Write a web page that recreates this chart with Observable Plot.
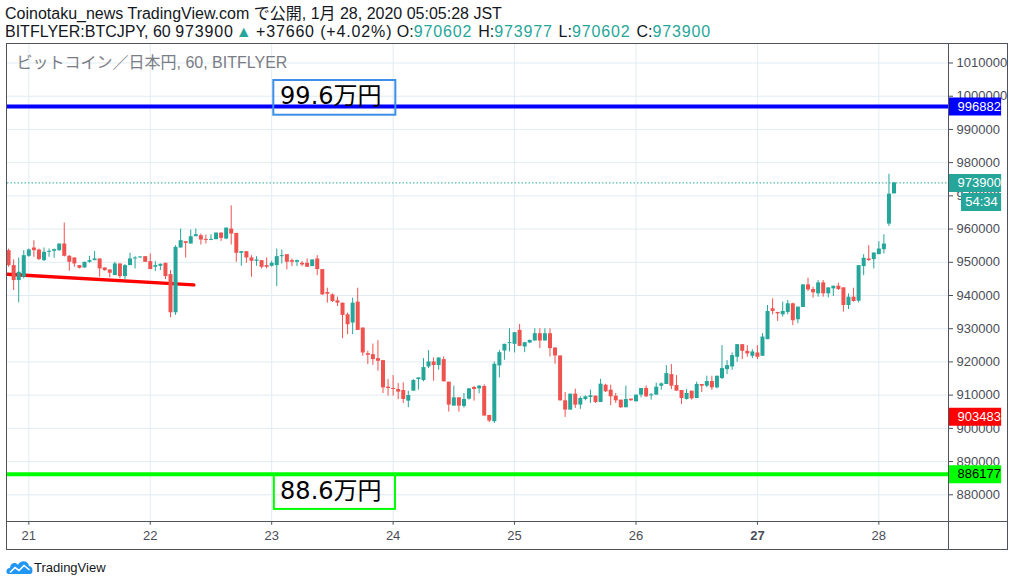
<!DOCTYPE html>
<html lang="ja">
<head>
<meta charset="utf-8">
<script src="https://cdn.jsdelivr.net/npm/d3@7"></script>
<script src="https://cdn.jsdelivr.net/npm/@observablehq/plot@0.6"></script>
<style>
html,body{margin:0;padding:0;background:#fff;}
body{width:1014px;height:586px;position:relative;overflow:hidden;font-family:"Liberation Sans",Arial,"Noto Sans CJK JP",sans-serif;color:#131722;}
.hdr{position:absolute;left:5px;font-size:16px;line-height:20px;white-space:nowrap;}
#h1{top:4px;}
#h2{top:22px;}
.v{color:#26a69a;}
.n{letter-spacing:0.85px;}
.tri{margin-left:2px;color:#26a69a;}
.it{margin-left:1.5px;}
#chart{position:absolute;left:0;top:42px;}
.ln{position:absolute;background:#50535e;}
#logo{position:absolute;left:6px;top:557px;height:20px;display:flex;align-items:center;font-size:13px;color:#131722;}
#logo svg{margin-right:1px;}
</style>
</head>
<body>
<div id="h1" class="hdr"></div>
<div id="h2" class="hdr"></div>
<div id="chart"></div>
<div class="ln" style="left:6px;top:43px;width:1002px;height:1px"></div>
<div class="ln" style="left:6px;top:43px;width:1px;height:507px"></div>
<div class="ln" style="left:1007px;top:43px;width:1px;height:507px"></div>
<div class="ln" style="left:6px;top:549px;width:1002px;height:1px"></div>
<div class="ln" style="left:948px;top:43px;width:1px;height:507px"></div>
<div class="ln" style="left:6px;top:521px;width:1002px;height:1px"></div>
<div id="logo"><svg width="27" height="16" viewBox="0 0 27 16"><path d="M2.5 15 C-0.5 15 -0.5 9 4 9 C4 4 9.5 2.5 12 6 C14 1 22 1 23 7 C27.5 7 27.5 15 24 15 Z" fill="#2196f3"/><polyline points="4,13.5 9,8.5 13,11.5 18,6.5 23.5,11" fill="none" stroke="#fff" stroke-width="1.6"/></svg><span>TradingView</span></div>
<script>
// ---------- header texts ----------
const headerLine1 = "Coinotaku_news TradingView.com で公開, 1月 28, 2020 05:05:28 JST";
const symbolText = "BITFLYER:BTCJPY, 60";
const changeText = "+37660 (+4.02%)";
const innerTitle = "ビットコイン／日本円, 60, BITFLYER";

// ---------- axes ----------
const dayTickTimes = ["2020-01-21T00:00Z","2020-01-22T00:00Z","2020-01-23T00:00Z","2020-01-24T00:00Z","2020-01-25T00:00Z","2020-01-26T00:00Z","2020-01-27T00:00Z","2020-01-28T00:00Z"];
const dayTickLabels = ["21","22","23","24","25","26","27","28"];
const boldDayLabels = ["27"];
const priceTicks = [880000,890000,900000,910000,920000,930000,940000,950000,960000,970000,980000,990000,1000000,1010000];
const xDomainTimes = ["2020-01-20T19:47Z","2020-01-28T13:46Z"];
const yDomainPrices = [871750, 1015870];

// ---------- hourly candles (BTC/JPY, 60 min) ----------
const firstBarTime = "2020-01-20T20:00Z";
const opens = [953500,949000,944500,945500,951800,954300,953700,950500,953000,953300,953500,955500,951800,951300,949000,948300,950000,950500,951000,948300,947700,946000,949500,945700,949000,951000,951300,951700,950200,948500,948800,949700,946300,934800,954300,956200,955500,957700,958000,956900,956600,956800,958800,957000,960000,958700,952700,953200,951300,950300,950500,949000,948800,949000,951700,952300,950500,950000,949700,949700,948700,951000,947800,940900,940200,938400,937700,934200,931700,938000,930200,922500,922200,921000,920400,912400,912000,911700,911400,908200,911200,914700,914400,918500,920000,918900,920700,913900,906700,909200,906600,908800,912300,911900,912600,903900,902000,918800,923300,925500,925300,929500,924500,925700,926300,928500,926300,928500,924200,921800,908300,905500,910300,907000,908700,909300,909700,907800,913000,911500,909700,908500,906200,908800,908000,910000,912000,909800,910000,912700,913200,916200,912900,911400,908700,911200,909000,913200,912700,914100,912200,915000,917700,918500,921400,925200,923200,921700,922700,921700,926700,936000,934900,934200,934900,937500,932700,936400,943200,941800,940500,943800,940500,942000,942800,942300,937000,939500,938300,948700,951000,950800,952300,953800,961500,970602];
const highs = [954000,950700,951300,953500,954000,956500,954000,954300,954000,954000,955500,961800,952000,951300,949000,950000,951800,953300,951000,948300,947700,950000,949500,949300,952700,951700,951700,951700,952500,950200,949500,949700,947500,955000,960000,956200,959700,960000,958500,958200,958300,958800,958800,960300,967000,958700,953200,953200,952000,951700,950500,951300,950300,954000,953700,952300,951000,950700,950200,951000,950700,952000,947800,942200,940500,939500,937700,934700,939200,942200,930200,923200,925400,926400,920400,914700,915900,913500,913700,911200,914700,915200,921000,923400,921200,921200,921500,913900,912700,909200,910500,911900,912600,912900,913100,903900,920000,923500,925300,930000,928800,931300,925800,926500,930000,930000,930000,930000,924200,921800,910800,910300,911800,909500,909800,911500,909700,914800,913300,913000,910500,908500,912700,908800,910000,912000,912800,910500,913600,913700,918900,919200,915900,911400,911700,911200,913900,913200,915700,915700,915700,924900,920400,922700,925200,925200,924900,923700,924900,928500,937000,939000,934900,938000,938500,937700,936500,943200,945200,942500,944500,944500,942300,942800,943700,942300,940500,942200,949000,952300,955000,952800,956200,958300,976500,973977];
const lows = [948500,941500,937800,945000,951500,951500,950500,950200,951500,951200,953300,951600,947300,948500,948000,948200,949700,950500,945500,947300,945300,946000,945000,944700,949000,948000,951300,950000,947800,947200,947500,944800,933300,934000,954300,951300,955500,957700,955200,955500,956500,956800,956300,956800,955200,950000,948800,949700,945500,948800,948000,948000,948500,942700,949500,947700,948700,948700,948700,948500,948700,946000,940000,937700,937900,936700,927000,928200,928200,929500,921700,919200,919000,917200,910500,909700,909700,908600,907500,906200,911200,911500,914000,918000,914200,917500,914000,904900,906700,904900,906100,908500,908200,910400,903700,901700,901500,915200,920500,923000,922700,924700,922800,925500,926300,924000,926300,921500,919300,908200,903300,905500,906000,905700,908300,907500,907500,907800,910800,906800,907500,906000,906200,908200,908000,909200,909300,908500,910000,911500,913200,911700,911200,907200,908500,908500,909000,910800,912200,911400,911900,914700,916200,917500,919900,920700,921400,921000,920700,921700,926700,934200,932200,933500,934200,930900,931500,936400,941200,939200,939500,939500,939300,939700,941500,935000,935800,938000,937800,946000,950300,948000,952300,952500,960800,970602];
const closes = [949000,944500,947000,952000,953700,953500,950800,953000,953300,953800,955500,951800,950000,949500,948200,950000,950500,951000,948000,947500,946700,949500,945700,949000,951000,951300,951600,950000,947800,949000,949400,945700,934800,954500,956500,955700,957700,958300,956700,956600,956900,958800,957200,960300,958500,952700,953200,951300,950300,950700,948500,948500,949700,951700,952000,950000,950000,950500,949200,948500,950700,947800,940200,940400,938200,937700,934000,931200,937700,929500,922700,922000,920700,920200,912200,912000,911700,910900,908700,909900,914400,915200,918300,920000,918900,921200,914000,907000,909200,906700,908700,911900,911700,912700,903700,902200,919300,922800,925300,925800,928800,924700,925800,926500,928500,926300,928500,924000,921800,908300,905500,910300,907000,909000,909500,909800,907800,913300,911000,909500,908300,906200,908700,908300,910000,912000,909500,910100,912400,913400,916500,912700,911200,909000,910500,908900,913200,912700,914100,912200,915700,918000,918900,921900,925200,923200,922400,923000,921400,927500,935200,935200,934500,935200,937500,932400,936500,943200,941700,940800,943800,940500,942300,942800,941800,937000,939500,938200,949000,951200,950500,952800,954000,955500,970500,973900];

// ---------- drawings ----------
const levelPrices = [996882, 886177];
const levelColors = ["#0000ff", "#00ff00"];
const levelTextColors = ["#ffffff", "#000000"];
const trendTimes = ["2020-01-20T19:47Z", "2020-01-22T08:36Z"];
const trendPrices = [946400, 943200];
const noteTexts = ["99.6万円", "88.6万円"];
const noteColors = ["#3d8ee6", "#00ff00"];
const noteStart = ["2020-01-23T00:25Z", "2020-01-23T00:31Z"];
const noteEnd = ["2020-01-24T00:32Z", "2020-01-24T00:28Z"];
const noteTop = [1004730, 885800];
const noteBottom = [994280, 875600];
const noteCenterTime = ["2020-01-23T11:41Z", "2020-01-23T11:41Z"];
const noteCenterPrice = [999900, 881150];
const lastPrice = 973900;
const countdownText = "54:34";
const markerPrices = [903483];
const markerColors = ["#ff0000"];
const labelBoxEnd = "2020-01-29T00:16Z";
const countdownBoxStart = "2020-01-28T16:20Z";
const countdownCenter = "2020-01-28T20:18Z";

const teal = "#26a69a", red = "#ef5350";

// header
const nLast = opens.length - 1;
document.getElementById("h1").textContent = headerLine1;
document.getElementById("h2").innerHTML =
  `${symbolText} <span class="n">${closes[nLast]}</span><span class="tri">▲</span> <span class="n">${changeText}</span> O:<span class="v n">${opens[nLast]}</span> <span class="it">H:</span><span class="v n">${highs[nLast]}</span> <span class="it">L:</span><span class="v n">${lows[nLast]}</span> <span class="it">C:</span><span class="v n">${closes[nLast]}</span>`;

const t0 = new Date(firstBarTime).getTime();
const bars = opens.map((o, i) => ({date: new Date(t0 + i * 3600e3), open: o, high: highs[i], low: lows[i], close: closes[i]}));
const upBars = bars.filter(d => d.close >= d.open);
const downBars = bars.filter(d => d.close < d.open);

const dayDates = dayTickTimes.map(s => new Date(s));
const labelOf = d => dayTickLabels[dayDates.findIndex(x => +x === +d)];
const normalDays = dayDates.filter(d => !boldDayLabels.includes(labelOf(d)));
const boldDays = dayDates.filter(d => boldDayLabels.includes(labelOf(d)));
const xEnd = new Date(xDomainTimes[1]);
const boxEnd = new Date(labelBoxEnd);

const notes = noteTexts.map((t, i) => ({text: t, x1: new Date(noteStart[i]), x2: new Date(noteEnd[i]), y1: noteBottom[i], y2: noteTop[i], cx: new Date(noteCenterTime[i]), cy: noteCenterPrice[i], color: noteColors[i]}));
const trend = trendTimes.map((t, i) => ({date: new Date(t), price: trendPrices[i]}));

const marks = [
  Plot.gridY({ticks: priceTicks, stroke: "#e1ecf2", strokeOpacity: 1}),
  Plot.gridX({ticks: dayDates, stroke: "#e1ecf2", strokeOpacity: 1}),
  Plot.axisY({ticks: priceTicks, anchor: "right", tickSize: 4, tickPadding: 4, tickFormat: d => String(d), label: null, color: "#4a4d57", fontSize: 13}),
  Plot.axisX({ticks: normalDays, anchor: "bottom", tickSize: 3, tickPadding: 6, tickFormat: labelOf, label: null, color: "#4a4d57", fontSize: 13}),
  Plot.axisX({ticks: boldDays, anchor: "bottom", tickSize: 3, tickPadding: 6, tickFormat: labelOf, label: null, color: "#4a4d57", fontSize: 13, fontWeight: "bold"}),
  Plot.text([innerTitle], {frameAnchor: "top-left", dx: 9, dy: 19, lineAnchor: "middle", text: d => d, fill: "#7a7d85", fontSize: 16, fontFamily: '"Liberation Sans","Noto Sans CJK JP",sans-serif'}),
  ...levelPrices.map((p, i) => Plot.ruleY([p], {stroke: levelColors[i], strokeWidth: 4})),
  Plot.line(trend, {x: "date", y: "price", stroke: "#ff0000", strokeWidth: 3.5}),
  Plot.ruleY([lastPrice], {stroke: teal, strokeWidth: 1, strokeDasharray: "1.5,2"}),
  Plot.ruleX(upBars, {x: "date", y1: "low", y2: "high", stroke: teal, strokeWidth: 1}),
  Plot.ruleX(downBars, {x: "date", y1: "low", y2: "high", stroke: red, strokeWidth: 1}),
  Plot.ruleX(upBars, {x: "date", y1: "open", y2: "close", stroke: teal, strokeWidth: 4, strokeLinecap: "butt"}),
  Plot.ruleX(downBars, {x: "date", y1: "open", y2: "close", stroke: red, strokeWidth: 4, strokeLinecap: "butt"}),
  ...notes.map(n => Plot.rect([n], {x1: "x1", x2: "x2", y1: "y1", y2: "y2", fill: "none", stroke: n.color, strokeWidth: 2})),
  Plot.text(notes, {x: "cx", y: "cy", text: "text", fill: "#000", fontSize: 24, fontFamily: '"DejaVu Sans","Noto Sans CJK JP",sans-serif', textAnchor: "middle"}),
  // price labels on the right axis
  ...levelPrices.map((p, i) => Plot.ruleY([p], {y: d => d, x1: () => xEnd, x2: () => boxEnd, stroke: levelColors[i], strokeWidth: 18})),
  ...levelPrices.map((p, i) => Plot.text([p], {y: d => d, x: () => xEnd, text: d => String(d), dx: 9, textAnchor: "start", fill: levelTextColors[i], fontSize: 13})),
  ...markerPrices.map((p, i) => Plot.ruleY([p], {y: d => d, x1: () => xEnd, x2: () => boxEnd, stroke: markerColors[i], strokeWidth: 18})),
  ...markerPrices.map((p, i) => Plot.text([p], {y: d => d, x: () => xEnd, text: d => String(d), dx: 9, textAnchor: "start", fill: "#fff", fontSize: 13})),
  Plot.ruleY([lastPrice], {y: d => d, x1: () => xEnd, x2: () => boxEnd, stroke: teal, strokeWidth: 18}),
  Plot.text([lastPrice], {y: d => d, x: () => xEnd, text: d => String(d), dx: 9, textAnchor: "start", fill: "#fff", fontSize: 13}),
  Plot.ruleY([lastPrice], {y: d => d, x1: () => new Date(countdownBoxStart), x2: () => boxEnd, dy: 19, stroke: teal, strokeWidth: 18}),
  Plot.text([countdownText], {y: () => lastPrice, x: () => new Date(countdownCenter), text: d => d, dy: 19, textAnchor: "middle", fill: "#fff", fontSize: 13})
];

const chart = Plot.plot({
  width: 1014,
  height: 508,
  marginTop: 1,
  marginLeft: 7,
  marginRight: 66,
  marginBottom: 28.3,
  x: {type: "utc", domain: xDomainTimes.map(s => new Date(s))},
  y: {domain: yDomainPrices},
  style: {background: "transparent", fontFamily: '"Liberation Sans Narrow","Liberation Sans",Arial,sans-serif', fontSize: "13px", overflow: "visible"},
  marks
});
document.getElementById("chart").appendChild(chart);
</script>
</body>
</html>
